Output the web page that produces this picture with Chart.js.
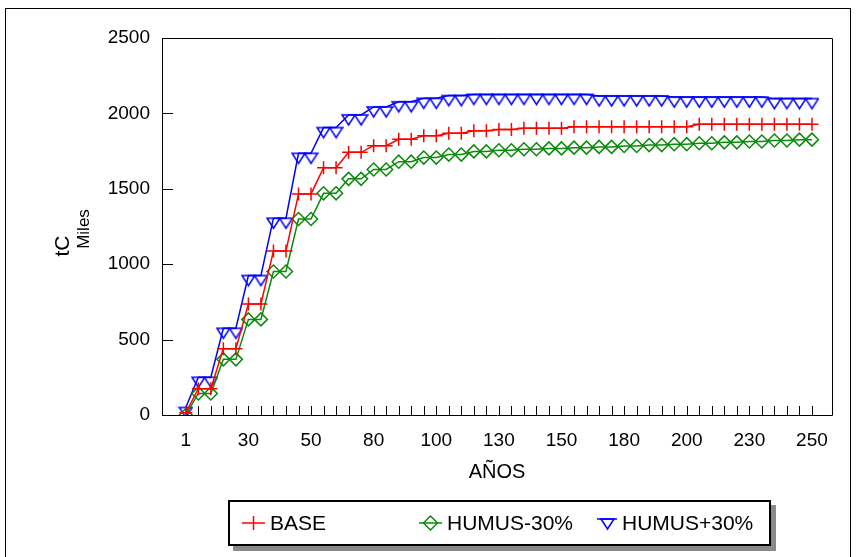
<!DOCTYPE html>
<html>
<head>
<meta charset="utf-8">
<script src="https://cdn.jsdelivr.net/npm/chart.js@4/dist/chart.umd.min.js"></script>
<style>
  html, body { margin: 0; padding: 0; background: #fff; }
  body { width: 857px; height: 557px; position: relative; overflow: hidden; font-family: "Liberation Sans", Arial, sans-serif; }
  #frame { position: absolute; left: 5px; top: 8px; width: 846px; height: 560px; border: 1px solid #000; box-sizing: border-box; }
  #wrap { position: absolute; left: 0; top: 0; width: 857px; height: 557px; }
  #legend { position: absolute; left: 228px; top: 500px; width: 543px; height: 46px; box-sizing: border-box;
            border: 2px solid #000; background: #fff; box-shadow: 5px 5px 0 #8a8a8a; }
  .item { position: absolute; top: 0; height: 42px; display: flex; align-items: center; font-size: 21px; color: #000; white-space: nowrap; }
  .item svg { margin-right: 5px; }
</style>
</head>
<body>
<div id="frame"></div>
<div id="wrap"><canvas id="chart" width="857" height="557"></canvas></div>
<div id="legend"></div>
<script>
// Year labels shown under every fifth category
const yearLabels = ['1', '30', '50', '80', '100', '130', '150', '180', '200', '230', '250'];

// Carbon stock (tC, thousands) per category, 51 categories
const base = [
  15, 174, 174, 440, 440, 736, 736, 1088, 1088, 1466,
  1466, 1640, 1640, 1742, 1742, 1786, 1786, 1828, 1828, 1852,
  1852, 1868, 1868, 1885, 1885, 1894, 1894, 1901, 1901, 1901,
  1901, 1912, 1912, 1912, 1912, 1912, 1912, 1912, 1912, 1912,
  1912, 1928, 1928, 1928, 1928, 1928, 1928, 1928, 1928, 1928,
  1928
];
const humusMinus30 = [
  0, 143, 143, 369, 369, 634, 634, 952, 952, 1300,
  1300, 1470, 1470, 1566, 1566, 1628, 1628, 1680, 1680, 1707,
  1707, 1727, 1727, 1748, 1748, 1756, 1756, 1762, 1762, 1768,
  1768, 1773, 1773, 1778, 1778, 1784, 1784, 1790, 1790, 1796,
  1796, 1802, 1802, 1808, 1808, 1814, 1814, 1820, 1820, 1826,
  1826
];
const humusPlus30 = [
  50, 250, 250, 575, 575, 925, 925, 1305, 1305, 1735,
  1735, 1906, 1906, 1990, 1990, 2043, 2043, 2077, 2077, 2100,
  2100, 2118, 2118, 2126, 2126, 2126, 2126, 2126, 2126, 2126,
  2126, 2126, 2126, 2116, 2116, 2116, 2116, 2116, 2116, 2108,
  2108, 2108, 2108, 2108, 2108, 2108, 2108, 2098, 2098, 2098,
  2098
];

const yTicks = [0, 500, 1000, 1500, 2000, 2500];

const RED = '#ff0000', GREEN = '#0a8a0a', BLUE = '#0000ff';
const FONT = '"Liberation Sans", Arial, sans-serif';

// Down-pointing triangle whose flat top edge sits on the data point
function makeTriangle(color) {
  const c = document.createElement('canvas');
  c.width = 15; c.height = 24;
  const g = c.getContext('2d');
  g.strokeStyle = color; g.lineWidth = 1.5; g.lineJoin = 'miter';
  g.beginPath();
  g.moveTo(1, 12); g.lineTo(14, 12); g.lineTo(7.5, 22); g.closePath();
  g.stroke();
  return c;
}
const triangle = makeTriangle(BLUE);

const toPoints = arr => arr.map((v, i) => ({ x: i, y: v }));

// Frame, inward tick marks and axis titles
const decorations = {
  id: 'decorations',
  beforeDatasetsDraw(chart) {
    const { ctx, chartArea: a, scales: { x, y } } = chart;
    ctx.save();
    ctx.strokeStyle = '#000';
    ctx.lineWidth = 1;
    ctx.beginPath();
    ctx.rect(Math.round(a.left) + 0.5, Math.round(a.top) + 0.5, Math.round(a.right - a.left), Math.round(a.bottom - a.top));
    ctx.stroke();
    ctx.beginPath();
    yTicks.forEach(v => {
      const py = Math.round(y.getPixelForValue(v)) + 0.5;
      ctx.moveTo(a.left, py); ctx.lineTo(a.left + 11, py);
    });
    for (let i = 0; i < base.length; i++) {
      const px = Math.round(x.getPixelForValue(i)) + 0.5;
      ctx.moveTo(px, a.bottom); ctx.lineTo(px, a.bottom - 9);
    }
    ctx.stroke();
    ctx.restore();
  },
  afterDraw(chart) {
    const { ctx, chartArea: a } = chart;
    ctx.save();
    ctx.fillStyle = '#000';
    ctx.textAlign = 'center';
    ctx.textBaseline = 'middle';
    ctx.font = '20px ' + FONT;
    ctx.fillText('AÑOS', (a.left + a.right) / 2, 472);
    ctx.restore();

    ctx.save();
    ctx.fillStyle = '#000';
    ctx.textAlign = 'center';
    ctx.textBaseline = 'middle';
    ctx.translate(63, 246);
    ctx.rotate(-Math.PI / 2);
    ctx.font = '21px ' + FONT;
    ctx.fillText('tC', 0, 0);
    ctx.restore();

    ctx.save();
    ctx.fillStyle = '#000';
    ctx.textAlign = 'center';
    ctx.textBaseline = 'middle';
    ctx.translate(84, 229);
    ctx.rotate(-Math.PI / 2);
    ctx.font = '17px ' + FONT;
    ctx.fillText('Miles', 0, 0);
    ctx.restore();
  }
};

new Chart(document.getElementById('chart'), {
  type: 'line',
  data: {
    datasets: [
      { label: 'BASE', data: toPoints(base), borderColor: RED, backgroundColor: 'transparent',
        borderWidth: 1.5, pointStyle: 'cross', pointRadius: 6.5, pointBorderWidth: 1.5, pointBorderColor: RED },
      { label: 'HUMUS-30%', data: toPoints(humusMinus30), borderColor: GREEN, backgroundColor: 'transparent',
        borderWidth: 1.5, pointStyle: 'rectRot', pointRadius: 6.5, pointBorderWidth: 1.5, pointBorderColor: GREEN,
        pointBackgroundColor: 'transparent' },
      { label: 'HUMUS+30%', data: toPoints(humusPlus30), borderColor: BLUE, backgroundColor: 'transparent',
        borderWidth: 1.5, pointStyle: triangle, pointRadius: 7 }
    ]
  },
  options: {
    responsive: false,
    animation: false,
    events: [],
    layout: { padding: { top: 38, right: 25, left: 0, bottom: 0 } },
    plugins: { legend: { display: false }, tooltip: { enabled: false } },
    scales: {
      x: {
        type: 'linear', min: -1.9, max: 51.6,
        grid: { display: false, drawTicks: false },
        border: { display: false },
        afterBuildTicks: s => { s.ticks = yearLabels.map((_, k) => ({ value: k * 5 })); },
        afterFit: s => { s.height = 142; },
        ticks: {
          autoSkip: false, maxRotation: 0, padding: 14, color: '#000',
          font: { family: FONT, size: 19 },
          callback: v => yearLabels[v / 5]
        }
      },
      y: {
        min: 0, max: 2500,
        grid: { display: false, drawTicks: false },
        border: { display: false },
        afterBuildTicks: s => { s.ticks = yTicks.map(v => ({ value: v })); },
        afterFit: s => { s.width = 162; },
        ticks: { padding: 12, color: '#000', font: { family: FONT, size: 19 }, callback: v => String(v) }
      }
    }
  },
  plugins: [decorations]
});

// Legend row
const legendItems = [
  { text: 'BASE', left: 12, marker: `<line x1="0" y1="11" x2="23" y2="11" stroke="${RED}" stroke-width="1.5"/><line x1="11.5" y1="4" x2="11.5" y2="18" stroke="${RED}" stroke-width="1.5"/>`, w: 23 },
  { text: 'HUMUS-30%', left: 189, marker: `<line x1="0" y1="11" x2="23" y2="11" stroke="${GREEN}" stroke-width="1.5"/><path d="M11.5 4 L18.5 11 L11.5 18 L4.5 11 Z" fill="none" stroke="${GREEN}" stroke-width="1.5"/>`, w: 23 },
  { text: 'HUMUS+30%', left: 367, marker: `<line x1="0" y1="7" x2="20" y2="7" stroke="${BLUE}" stroke-width="1.5"/><path d="M4 7 L17 7 L10.5 17 Z" fill="none" stroke="${BLUE}" stroke-width="1.5"/>`, w: 20 }
];
const legend = document.getElementById('legend');
legendItems.forEach(it => {
  const d = document.createElement('div');
  d.className = 'item';
  d.style.left = it.left + 'px';
  d.innerHTML = `<svg width="${it.w}" height="22" viewBox="0 0 ${it.w} 22">${it.marker}</svg><span>${it.text}</span>`;
  legend.appendChild(d);
});
</script>
</body>
</html>
